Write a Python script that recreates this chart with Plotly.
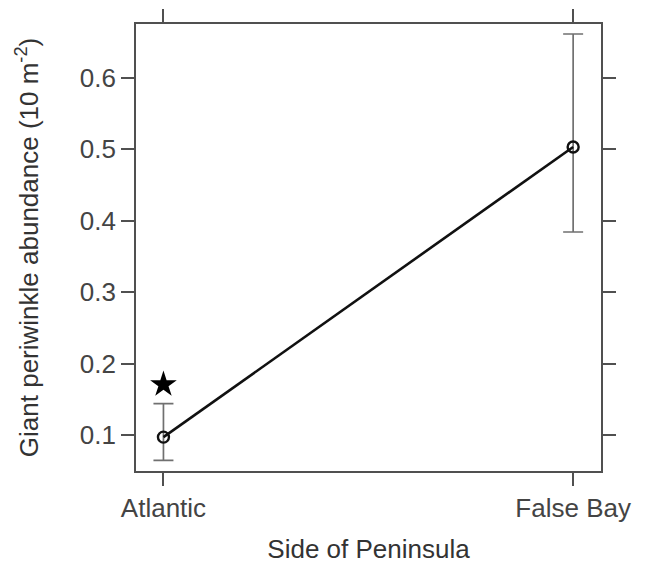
import plotly.graph_objects as go

categories = ["Atlantic", "False Bay"]
x_pos = [0, 1]
means = [0.097, 0.503]
upper = [0.144, 0.661]
lower = [0.0646, 0.384]
star_y = [0.1706]
y_ticks = [0.1, 0.2, 0.3, 0.4, 0.5, 0.6]

err_plus = [u - m for u, m in zip(upper, means)]
err_minus = [m - l for m, l in zip(means, lower)]

fig = go.Figure()
fig.add_trace(go.Scatter(
    x=x_pos, y=means, mode="lines+markers",
    line=dict(color="#111111", width=2.6),
    marker=dict(symbol="circle-open", size=11, color="#111111", line=dict(width=2.4)),
    error_y=dict(type="data", symmetric=False, array=err_plus, arrayminus=err_minus,
                 color="#707070", thickness=1.7, width=10),
    showlegend=False, hoverinfo="skip"))
fig.add_trace(go.Scatter(
    x=[x_pos[0]], y=star_y, mode="markers",
    marker=dict(symbol="star", size=20, color="black"),
    showlegend=False, hoverinfo="skip"))

axis_common = dict(
    showline=True, linecolor="#505050", linewidth=1.6, mirror="ticks",
    ticks="outside", ticklen=13, tickwidth=1.6, tickcolor="#505050",
    showgrid=False, zeroline=False, automargin=False,
    tickfont=dict(family="Liberation Sans, Arial", size=26, color="#444444"),
)

fig.update_xaxes(
    range=[-0.067, 1.068], tickvals=x_pos, ticktext=categories,
    title=dict(text="Side of Peninsula", standoff=18,
               font=dict(family="Liberation Sans, Arial", size=26, color="#333333")),
    **axis_common)
fig.update_yaxes(
    range=[0.0496, 0.675], tickvals=y_ticks, ticktext=[f"{v:.1f}" for v in y_ticks],
    title=dict(text="Giant periwinkle abundance (10 m<sup>-2</sup>)", standoff=34,
               font=dict(family="Liberation Sans, Arial", size=26, color="#333333")),
    **axis_common)

fig.update_layout(
    width=647, height=566,
    margin=dict(l=136, r=46, t=24, b=95),
    paper_bgcolor="white", plot_bgcolor="white",
)

fig.write_html("out.html")
